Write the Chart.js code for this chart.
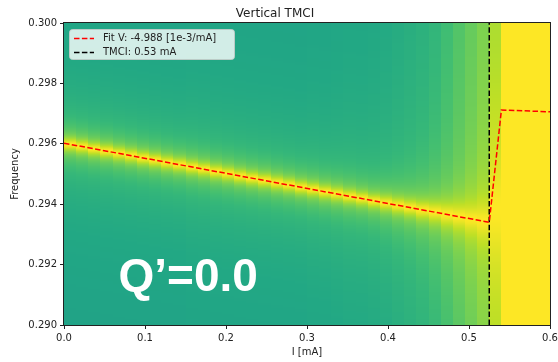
<!DOCTYPE html>
<html>
<head>
<meta charset="utf-8">
<script src="https://cdn.jsdelivr.net/npm/chart.js@4.4.1/dist/chart.umd.min.js"></script>
<style>
  html, body { margin: 0; padding: 0; background: #fff; }
  canvas { display: block; }
</style>
</head>
<body>
<canvas id="tmci" width="558" height="362"></canvas>
<script>
// tick labels
var xTicks = [0.0, 0.1, 0.2, 0.3, 0.4, 0.5, 0.6];
var yTicks = [0.290, 0.292, 0.294, 0.296, 0.298, 0.300];

// spectrum columns, one per current step (left edge in mA)
var colStep = 0.015;
var colStart = [0, 0.015, 0.03, 0.045, 0.06, 0.075, 0.09, 0.105, 0.12, 0.135,
                0.15, 0.165, 0.18, 0.195, 0.21, 0.225, 0.24, 0.255, 0.27, 0.285,
                0.3, 0.315, 0.33, 0.345, 0.36, 0.375, 0.39, 0.405, 0.42, 0.435,
                0.45, 0.465, 0.48, 0.495, 0.51, 0.525, 0.54, 0.555, 0.57, 0.585];
// tune peak of each column
var colPeak = [0.29598, 0.29591, 0.29583, 0.29576, 0.29568, 0.29561, 0.29553, 0.29546, 0.29538, 0.29531,
               0.29523, 0.29516, 0.29508, 0.29501, 0.29493, 0.29486, 0.29479, 0.29471, 0.29464, 0.29456,
               0.29449, 0.29441, 0.29434, 0.29426, 0.29419, 0.29411, 0.29404, 0.29396, 0.29389, 0.29381,
               0.29374, 0.29366, 0.29359, 0.29351, 0.29344, 0.29380, null, null, null, null];
// peak half width
var colWidth = [0.00015, 0.00015, 0.00015, 0.00015, 0.00015, 0.00015, 0.00015, 0.00015, 0.00015, 0.00015,
                0.00015, 0.00015, 0.00015, 0.00015, 0.00015, 0.00015, 0.00015, 0.00015, 0.00015, 0.00015,
                0.00015, 0.00015, 0.00015, 0.00015, 0.00015, 0.00015, 0.00016, 0.00017, 0.00018, 0.0002,
                0.00022, 0.00025, 0.00028, 0.00032, 0.00038, 0.0012, 0, 0, 0, 0];
// level far from the peak (0..1 of the colour map)
var colFloor = [0.54, 0.54, 0.54, 0.54, 0.54, 0.54, 0.54, 0.54, 0.54, 0.54,
                0.545, 0.545, 0.545, 0.545, 0.545, 0.545, 0.545, 0.545, 0.545, 0.545,
                0.55, 0.55, 0.555, 0.56, 0.56, 0.565, 0.57, 0.58, 0.59, 0.6,
                0.62, 0.65, 0.69, 0.73, 0.77, 0.82, 1, 1, 1, 1];

// fitted tune line and instability threshold
var fitI = [0, 0.525, 0.54, 0.6];
var fitF = [0.29602, 0.29340, 0.29712, 0.29706];
var tmciI = [0.525, 0.525];
var tmciF = [0.290, 0.300];

var fitLabel = 'Fit V: -4.988 [1e-3/mA]';
var tmciLabel = 'TMCI: 0.53 mA';

var viridisStops = [
  [0, 68, 1, 84], [0.111, 72, 40, 120], [0.222, 62, 74, 137], [0.333, 49, 104, 142],
  [0.444, 38, 130, 142], [0.5, 33, 145, 140], [0.556, 31, 158, 137], [0.6, 34, 168, 132],
  [0.667, 53, 183, 121], [0.7, 68, 191, 112], [0.778, 109, 205, 89], [0.8, 122, 209, 81],
  [0.889, 180, 222, 44], [0.9, 189, 223, 38], [1, 253, 231, 37]
];

function viridis(t) {
  t = Math.max(0, Math.min(1, t));
  for (var i = 1; i < viridisStops.length; i++) {
    var b = viridisStops[i];
    if (t <= b[0]) {
      var a = viridisStops[i - 1];
      var u = (t - a[0]) / (b[0] - a[0]);
      return 'rgb(' + Math.round(a[1] + (b[1] - a[1]) * u) + ',' +
        Math.round(a[2] + (b[2] - a[2]) * u) + ',' +
        Math.round(a[3] + (b[3] - a[3]) * u) + ')';
    }
  }
  return 'rgb(253,231,37)';
}

function level(k, f) {
  if (colPeak[k] === null) return colFloor[k];
  var d = (f - colPeak[k]) / colWidth[k];
  return colFloor[k] + (1 - colFloor[k]) * Math.pow(1 + d * d, -0.34);
}

var spectrumPlugin = {
  id: 'spectrum',
  beforeDatasetsDraw: function (chart) {
    var ctx = chart.ctx, area = chart.chartArea;
    var xs = chart.scales.x, ys = chart.scales.y;
    ctx.save();
    for (var k = 0; k < colStart.length; k++) {
      var x0 = Math.round(xs.getPixelForValue(colStart[k]));
      var x1 = Math.round(xs.getPixelForValue(colStart[k] + colStep));
      for (var py = Math.floor(area.top); py < Math.ceil(area.bottom); py++) {
        ctx.fillStyle = viridis(level(k, ys.getValueForPixel(py + 0.5)));
        ctx.fillRect(x0, py, x1 - x0, 1);
      }
    }
    ctx.restore();
  },
  afterDatasetsDraw: function (chart) {
    var ctx = chart.ctx, area = chart.chartArea;
    ctx.save();
    // big annotation
    ctx.fillStyle = '#ffffff';
    ctx.font = 'bold 46px "Liberation Sans", Arial, sans-serif';
    ctx.textBaseline = 'alphabetic';
    ctx.fillText('Q\u2019=0.0', 118.5, 291);
    // frame
    ctx.strokeStyle = '#222';
    ctx.lineWidth = 1;
    ctx.strokeRect(Math.round(area.left) - 0.5, Math.round(area.top) - 0.5,
      Math.round(area.right - area.left) + 1, Math.round(area.bottom - area.top) + 1);
    // legend
    ctx.fillStyle = 'rgba(255,255,255,0.8)';
    ctx.strokeStyle = 'rgba(204,204,204,0.8)';
    ctx.beginPath();
    ctx.roundRect(69.5, 29.5, 165, 30, 3);
    ctx.fill();
    ctx.stroke();
    ctx.font = '10px "DejaVu Sans", sans-serif';
    ctx.textBaseline = 'middle';
    chart.data.datasets.forEach(function (ds, i) {
      var y = 38.5 + i * 14;
      ctx.strokeStyle = ds.borderColor;
      ctx.lineWidth = ds.borderWidth;
      ctx.setLineDash(ds.borderDash);
      ctx.beginPath();
      ctx.moveTo(74, y);
      ctx.lineTo(94, y);
      ctx.stroke();
      ctx.setLineDash([]);
      ctx.fillStyle = '#222';
      ctx.fillText(ds.label, 103, y);
    });
    ctx.restore();
  }
};

var tickFont = { family: 'DejaVu Sans', size: 10 };

new Chart(document.getElementById('tmci'), {
  type: 'scatter',
  data: {
    datasets: [
      {
        label: fitLabel,
        data: fitI.map(function (x, i) { return { x: x, y: fitF[i] }; }),
        showLine: true,
        borderColor: '#ff0000',
        borderWidth: 1.5,
        borderDash: [5.5, 2.4],
        pointRadius: 0
      },
      {
        label: tmciLabel,
        data: tmciI.map(function (x, i) { return { x: x, y: tmciF[i] }; }),
        showLine: true,
        borderColor: '#000000',
        borderWidth: 1.5,
        borderDash: [5.5, 2.4],
        pointRadius: 0
      }
    ]
  },
  options: {
    responsive: false,
    animation: false,
    layout: { padding: { left: 0, right: 8, top: 0, bottom: 0 } },
    plugins: {
      legend: { display: false },
      tooltip: { enabled: false },
      title: {
        display: true,
        text: 'Vertical TMCI',
        color: '#222',
        font: { family: 'DejaVu Sans', size: 12, weight: 'normal' },
        padding: { top: 6.6, bottom: 2 }
      }
    },
    scales: {
      x: {
        type: 'linear',
        min: 0,
        max: 0.6,
        afterBuildTicks: function (scale) {
          scale.ticks = xTicks.map(function (v) { return { value: v }; });
        },
        afterFit: function (scale) {
          scale.height = 37;
          scale.paddingRight = 0;
          scale.paddingLeft = 0;
        },
        border: { display: false },
        grid: { drawOnChartArea: false, drawTicks: true, tickLength: 4, color: '#222', lineWidth: 1 },
        ticks: {
          color: '#222',
          font: tickFont,
          padding: 3,
          maxRotation: 0,
          callback: function (v) { return v.toFixed(1); }
        },
        title: {
          display: true,
          text: 'I [mA]',
          color: '#222',
          font: tickFont,
          padding: { top: 0, bottom: 4 }
        }
      },
      y: {
        type: 'linear',
        min: 0.290,
        max: 0.300,
        afterBuildTicks: function (scale) {
          scale.ticks = yTicks.map(function (v) { return { value: v }; });
        },
        afterFit: function (scale) {
          scale.width = 64;
          scale.paddingTop = 0;
          scale.paddingBottom = 0;
        },
        border: { display: false },
        grid: { drawOnChartArea: false, drawTicks: true, tickLength: 4, color: '#222', lineWidth: 1 },
        ticks: {
          color: '#222',
          font: tickFont,
          padding: 3,
          callback: function (v) { return v.toFixed(3); }
        },
        title: {
          display: true,
          text: 'Frequency',
          color: '#222',
          font: tickFont,
          padding: { top: 9, bottom: 0 }
        }
      }
    }
  },
  plugins: [spectrumPlugin]
});
</script>
</body>
</html>
